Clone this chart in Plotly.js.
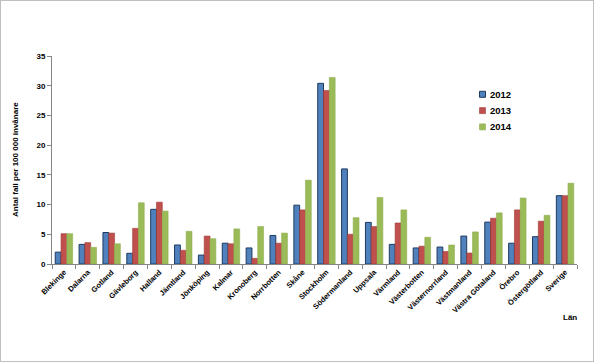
<!DOCTYPE html>
<html><head><meta charset="utf-8">
<script src="https://cdn.plot.ly/plotly-3.0.1.min.js"></script>
<style>
html,body{margin:0;padding:0;background:#fff;}
#frame{position:absolute;left:0;top:0;width:594px;height:362px;box-sizing:border-box;border:1px solid #bfbfbf;pointer-events:none;}
#chart{position:absolute;left:0;top:0;width:594px;height:362px;}
</style></head>
<body>
<div id="chart"></div>
<div id="frame"></div>
<script>
const categories = ["Blekinge","Dalarna","Gotland","Gävleborg","Halland","Jämtland","Jönköping","Kalmar","Kronoberg","Norrbotten","Skåne","Stockholm","Södermanland","Uppsala","Värmland","Västerbotten","Västernorrland","Västmanland","Västra Götaland","Örebro","Östergötland","Sverige"];
const v2012 = [2.0,3.3,5.3,1.8,9.2,3.2,1.5,3.5,2.7,4.8,9.9,30.4,16.0,7.0,3.3,2.7,2.85,4.7,7.05,3.5,4.6,11.5];
const v2013 = [5.1,3.6,5.2,6.0,10.4,2.3,4.7,3.4,0.95,3.5,9.1,29.2,5.0,6.3,6.9,3.0,2.1,1.85,7.7,9.1,7.2,11.5];
const v2014 = [5.1,2.8,3.4,10.3,8.9,5.5,4.25,5.9,6.3,5.2,14.1,31.4,7.8,11.2,9.1,4.5,3.2,5.4,8.6,11.1,8.2,13.6];
const seriesNames = ["2012","2013","2014"];
const yTicks = [0,5,10,15,20,25,30,35];

const fam = "Liberation Sans, Arial, sans-serif";
const colors = ["#4F81BD","#C0504D","#9BBB59"];
const lines = ["#1F3A60","#9E3B38","#8FAF4D"];
const vals = [v2012,v2013,v2014];
const data = vals.map((v,i)=>({
  type:"bar", name:seriesNames[i], x:categories, y:v, showlegend:false,
  marker:{color:colors[i], line:{color:lines[i], width:i===0?1:0.6}}
}));

// plot area in pixels
const L=52, R=577, T=56, B=264;
const px2x = p => (p-L)/(R-L);
const py2y = p => (B-p)/(B-T);

const shapes = [], annotations = [];
seriesNames.forEach((n,i)=>{
  const cy = 94.3 + i*16.3;
  shapes.push({type:"rect", xref:"paper", yref:"paper", x0:px2x(479.5), x1:px2x(485.5),
    y0:py2y(cy+3), y1:py2y(cy-3), fillcolor:colors[i], line:{color:lines[i], width:i===0?1:0.6}});
  annotations.push({text:n, xref:"paper", yref:"paper", x:px2x(487.5), y:py2y(cy),
    xanchor:"left", yanchor:"middle", showarrow:false, font:{family:fam,size:9.5,weight:"bold",color:"#000"}});
});
annotations.push({text:"Antal fall per 100 000 invånare", xref:"paper", yref:"paper", x:px2x(15), y:py2y(160),
  xanchor:"center", yanchor:"middle", textangle:-90, showarrow:false,
  font:{family:fam,size:8,weight:"bold",color:"#000"}});
annotations.push({text:"Län", xref:"paper", yref:"paper", x:px2x(570), y:py2y(317), xanchor:"center", yanchor:"middle",
  showarrow:false, font:{family:fam,size:8,weight:"bold",color:"#000"}});

const layout = {
  width:594, height:362,
  margin:{l:L,r:594-R,t:T,b:362-B},
  paper_bgcolor:"#fff", plot_bgcolor:"#fff",
  barmode:"group", bargap:0.27, bargroupgap:0,
  showlegend:false,
  xaxis:{type:"category", tickangle:-45, tickson:"boundaries", ticks:"outside", ticklen:4, tickcolor:"#868686",
    showline:true, linecolor:"#868686", linewidth:1, showgrid:false,
    tickfont:{family:fam,size:7.5,weight:"bold",color:"#000"}, automargin:false},
  yaxis:{range:[0,35], tickvals:yTicks, ticks:"outside", ticklen:4, tickcolor:"#868686",
    showline:true, linecolor:"#868686", linewidth:1, showgrid:false, zeroline:false,
    tickfont:{family:fam,size:8,weight:"bold",color:"#000"}, automargin:false},
  shapes: shapes,
  annotations: annotations
};
Plotly.newPlot("chart", data, layout, {staticPlot:true, displayModeBar:false});
</script>
</body></html>
